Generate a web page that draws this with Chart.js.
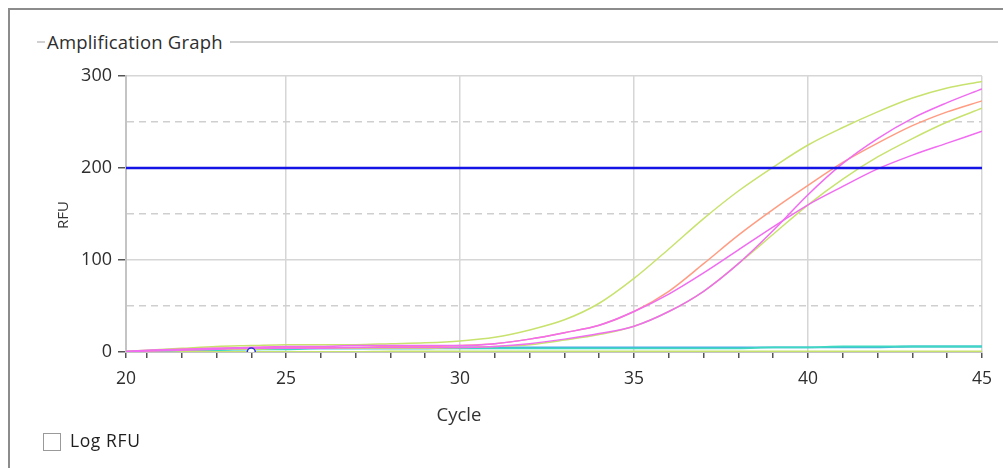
<!DOCTYPE html>
<html>
<head>
<meta charset="utf-8">
<script src="https://cdn.jsdelivr.net/npm/chart.js@4/dist/chart.umd.min.js"></script>
<style>
  html, body { margin: 0; padding: 0; background: #fff; }
  #wrap { position: relative; width: 1003px; height: 468px; overflow: hidden; font-family: "Open Sans", sans-serif; color: #333; }
  #ampChart { position: absolute; left: 0; top: 0; }
  .frameTop { position: absolute; left: 8px; top: 8px; width: 1000px; height: 0; border-top: 2px solid #8c8c8c; }
  .frameLeft { position: absolute; left: 8px; top: 8px; width: 0; height: 470px; border-left: 2px solid #8c8c8c; }
  .groupLine { position: absolute; top: 41px; height: 0; border-top: 2px solid #d0d0d0; }
  .title { position: absolute; left: 45px; top: 29px; font-size: 18.5px; letter-spacing: 0.2px; background: #fff; padding: 0 2px; white-space: nowrap; color: #2e2e2e; }
  .yTitle { position: absolute; left: 62px; top: 215px; font-size: 15px; transform: translate(-50%, -50%) rotate(-90deg); }
  .xTitle { position: absolute; left: 459px; top: 413px; font-size: 18.5px; transform: translate(-50%, -50%); }
  .check { position: absolute; left: 43px; top: 433px; width: 16px; height: 16px; border: 1px solid #9a9a9a; background: #fff; }
  .checkLabel { position: absolute; left: 70px; top: 428px; font-size: 17.5px; letter-spacing: 0.6px; color: #1e1e1e; }
</style>
</head>
<body>
<div id="wrap">
  <canvas id="ampChart" width="1003" height="468"></canvas>
  <div class="frameTop"></div>
  <div class="frameLeft"></div>
  <div class="groupLine" style="left:37px;width:8px"></div>
  <div class="groupLine" style="left:230px;width:768px"></div>
  <div class="title">Amplification Graph</div>
  <div class="yTitle">RFU</div>
  <div class="xTitle">Cycle</div>
  <div class="check"></div>
  <div class="checkLabel">Log RFU</div>
</div>
<script>
const cycles = [20, 21, 22, 23, 24, 25, 26, 27, 28, 29, 30, 31, 32, 33, 34, 35, 36, 37, 38, 39, 40, 41, 42, 43, 44, 45];

const greenEarly   = [0, 2, 4, 6, 7, 8, 8, 8, 9, 10, 12, 16, 24, 35, 53, 80, 112, 145, 175, 201, 225, 244, 261, 276, 287, 294];
const orangeCurve  = [0, 1, 3, 4, 5, 5, 5, 5, 6, 6, 7, 9, 14, 21, 29, 44, 66, 96, 127, 155, 181, 206, 227, 246, 261, 273];
const magentaLow   = [0, 2, 3, 4, 5, 6, 6, 7, 7, 7, 7, 9, 14, 21, 29, 44, 63, 86, 111, 136, 160, 180, 199, 214, 227, 240];
const magentaHigh  = [0, 1, 2, 3, 4, 4, 4, 5, 5, 5, 5, 6, 9, 14, 20, 28, 44, 66, 96, 132, 171, 205, 232, 254, 271, 286];
const greenLate    = [0, 1, 2, 3, 3, 4, 4, 4, 4, 4, 5, 6, 8, 13, 19, 28, 44, 66, 96, 128, 160, 188, 212, 232, 250, 265];
const flatBlue     = [0, 1, 2, 3, 3, 4, 4, 4, 4, 4, 5, 5, 5, 5, 5, 5, 5, 5, 5, 5, 5, 5, 5, 6, 6, 6];
const flatTeal     = [0, 1, 2, 2, 3, 3, 4, 4, 4, 4, 4, 4, 4, 4, 4, 4, 4, 4, 4, 5, 5, 6, 6, 6, 6, 6];
const flatGreen    = [0, 0, 0, 0, 0, 0, 0, 0, 0.5, 0.5, 0.5, 0.5, 0.5, 0.5, 0.5, 0.5, 0.5, 0.5, 0.5, 0.5, 0.5, 0.5, 0.5, 0.5, 0.5, 0.5];

const threshold = 200;
const markerCycle = 24;

const xMin = 20.4, xMax = 45;
const yTicksMajor = [0, 100, 200, 300];

function pts(vals) {
    return cycles.map((c, i) => ({ x: c, y: vals[i] }));
}

function curve(vals, color, width) {
    return {
        data: pts(vals),
        borderColor: color,
        borderWidth: width,
        pointRadius: 0,
        cubicInterpolationMode: "monotone",
        fill: false
    };
}

new Chart(document.getElementById("ampChart"), {
    type: "line",
    data: {
        datasets: [
            {
                data: [{ x: cycles[0], y: threshold }, { x: cycles[cycles.length - 1], y: threshold }],
                borderColor: "#1414e6",
                borderWidth: 2.5,
                pointRadius: 0
            },
            {
                data: [{ x: markerCycle, y: 0 }],
                showLine: false,
                pointRadius: 4,
                pointBorderWidth: 1.5,
                pointBorderColor: "#2b2bd0",
                pointBackgroundColor: "#ffffff"
            },
            curve(magentaHigh, "#f06cf0", 1.5),
            curve(magentaLow, "#f06cf0", 1.5),
            curve(orangeCurve, "#ff9c82", 1.5),
            curve(greenLate, "#c8e26e", 1.5),
            curve(greenEarly, "#c8e26e", 1.5),
            curve(flatTeal, "#3fd8c0", 1.8),
            curve(flatBlue, "#4aa8e8", 1.8),
            curve(flatGreen, "#c8e26e", 2)
        ]
    },
    options: {
        responsive: false,
        animation: false,
        layout: { padding: { top: 76, right: 17, left: 0, bottom: 0 } },
        plugins: { legend: { display: false }, tooltip: { enabled: false } },
        scales: {
            x: {
                type: "linear",
                min: xMin,
                max: xMax,
                afterFit: s => { s.height = 116; },
                afterBuildTicks: s => {
                    s.ticks = [{ value: xMin }].concat(cycles.filter(c => c > xMin).map(c => ({ value: c })));
                },
                ticks: {
                    autoSkip: false,
                    maxRotation: 0,
                    padding: 11,
                    color: "#2e2e2e",
                    font: { family: "Open Sans", size: 17.5 },
                    callback: v => (v === xMin ? "20" : (v % 5 === 0 ? String(v) : ""))
                },
                grid: {
                    tickLength: 6,
                    lineWidth: 1.5,
                    color: ctx => (ctx.tick && ctx.tick.value % 5 === 0 && ctx.tick.value > xMin ? "#d6d6d6" : "rgba(0,0,0,0)"),
                    tickColor: "#555"
                },
                border: { color: "#c4c4c4", width: 2 }
            },
            y: {
                min: 0,
                max: 300,
                afterFit: s => { s.width = 126; },
                ticks: {
                    stepSize: 50,
                    padding: 6,
                    color: "#2e2e2e",
                    font: { family: "Open Sans", size: 18 },
                    callback: v => (yTicksMajor.includes(v) ? String(v) : "")
                },
                grid: {
                    tickLength: 8,
                    lineWidth: 1.5,
                    color: ctx => (ctx.tick && ctx.tick.value % 100 === 0 ? "#d6d6d6" : "#cfcfcf"),
                    tickColor: ctx => (ctx.tick && ctx.tick.value % 100 === 0 ? "#555" : "rgba(0,0,0,0)")
                },
                border: {
                    color: "#c4c4c4",
                    width: 2,
                    dash: ctx => (ctx.tick && ctx.tick.value % 100 !== 0 ? [7, 5] : [])
                }
            }
        }
    }
});
</script>
</body>
</html>
